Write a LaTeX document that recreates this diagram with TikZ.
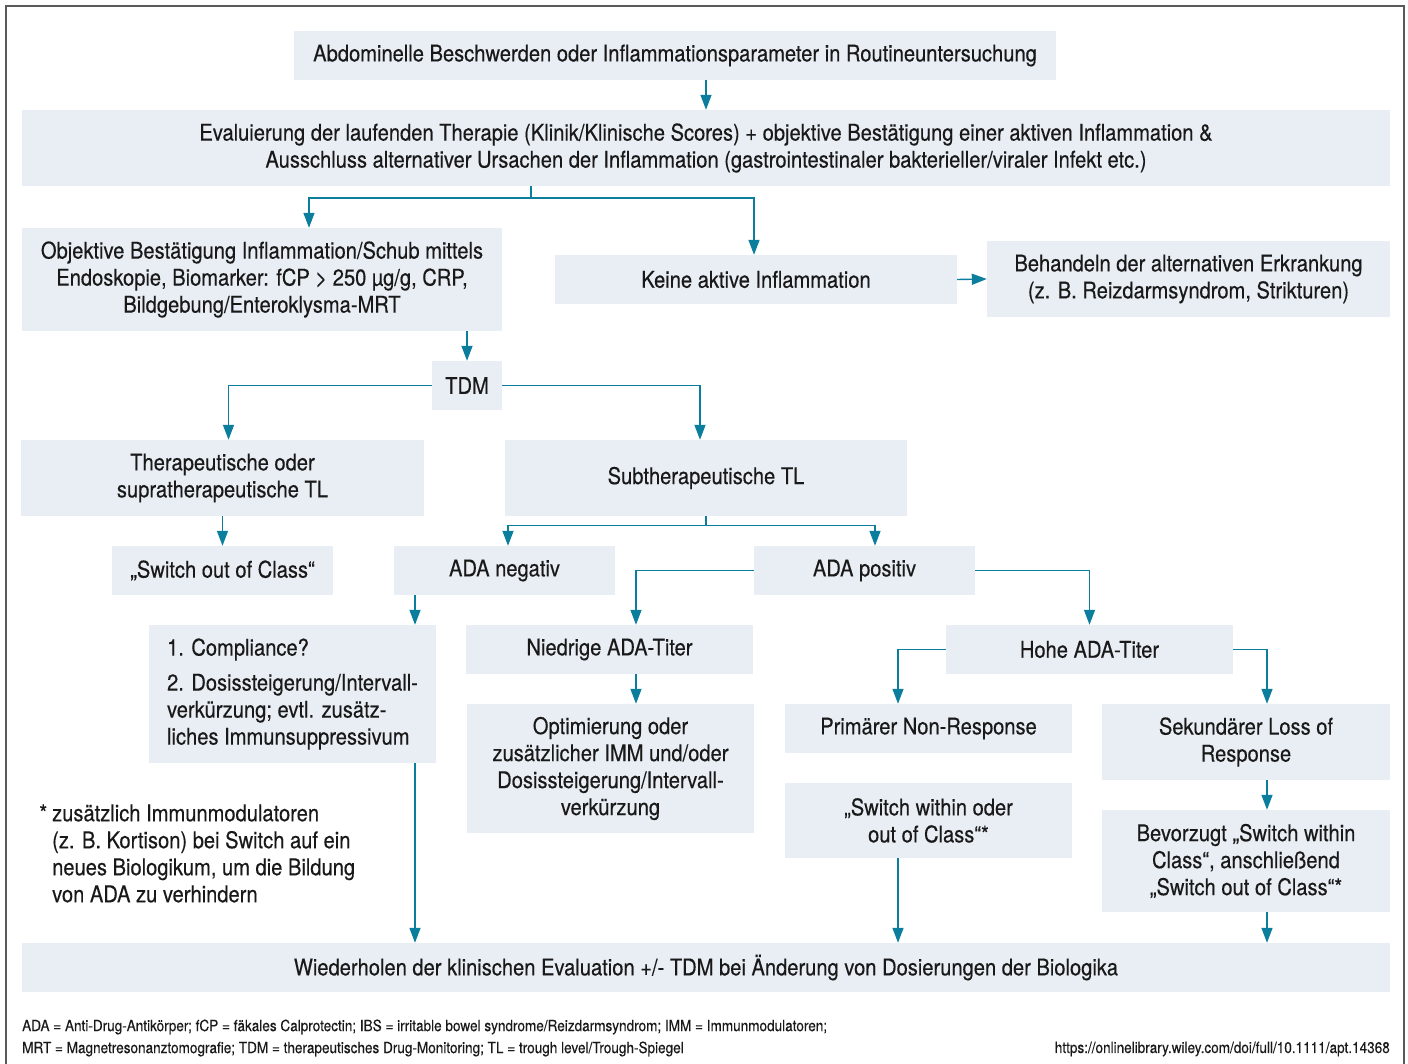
\documentclass[tikz,border=0pt]{standalone}
\usepackage{fontspec}
\setmainfont{TeX Gyre Heros}[FakeStretch=0.875,FakeBold=0.35]
\usetikzlibrary{arrows.meta,calc}
\definecolor{kasten}{HTML}{E8EEF4}
\definecolor{pfeil}{HTML}{0B7D9D}
\definecolor{rahmen}{HTML}{5A5A5A}

\begin{document}
\begin{tikzpicture}[x=1pt,y=-1pt,
  box/.style={rectangle, fill=kasten, inner sep=0pt, align=center,
    text=black!90, font=\fontsize{23}{27}\selectfont},
  arr/.style={draw=pfeil, line width=1.4pt, -{Triangle[width=11pt,length=15pt]}},
  note/.style={inner sep=0pt, align=left, text=black!90}]
  \useasboundingbox (0,0) rectangle (1408,1064);
  \draw[rahmen,line width=1.3pt] (6,1070) -- (6,6) -- (1404,6) -- (1404,1070);

  % Kaesten
  \node[box, minimum width=762pt, minimum height=49pt] at (675,55.5) (top)
    {Abdominelle Beschwerden oder Inflammationsparameter in Routineuntersuchung};
  \node[box, minimum width=1368pt, minimum height=76pt] at (706,148) (eval)
    {Evaluierung der laufenden Therapie (Klinik/Klinische Scores) + objektive Bestätigung einer aktiven Inflammation \&\\
     Ausschluss alternativer Ursachen der Inflammation (gastrointestinaler bakterieller/viraler Infekt etc.)};
  \node[box, minimum width=480pt, minimum height=103pt] at (262,279.5) (objektiv)
    {Objektive Bestätigung Inflammation/Schub mittels\\
     Endoskopie, Biomarker: fCP > 250 µg/g, CRP,\\
     Bildgebung/Enteroklysma-MRT};
  \node[box, minimum width=402pt, minimum height=49pt] at (756,279.5) (keine)
    {Keine aktive Inflammation};
  \node[box, minimum width=403pt, minimum height=76pt] at (1188.5,279) (behandeln)
    {Behandeln der alternativen Erkrankung\\(z. B. Reizdarmsyndrom, Strikturen)};
  \node[box, minimum width=70pt, minimum height=49pt] at (467,385.5) (tdm) {TDM};
  \node[box, minimum width=403pt, minimum height=76pt] at (222.5,478) (therap)
    {Therapeutische oder\\supratherapeutische TL};
  \node[box, minimum width=402pt, minimum height=76pt] at (706,478) (subther)
    {Subtherapeutische TL};
  \node[box, minimum width=221pt, minimum height=49pt] at (222.5,570.5) (switchout)
    {„Switch out of Class“};
  \node[box, minimum width=221pt, minimum height=49pt] at (504.5,570.5) (adaneg)
    {ADA negativ};
  \node[box, minimum width=221pt, minimum height=49pt] at (864.5,570.5) (adapos)
    {ADA positiv};
  \node[box, align=left, minimum width=287pt, minimum height=138pt] at (292.5,694) (compliance)
    {1. Compliance?\\[8pt]
     2. Dosissteigerung/Intervall-\\verkürzung; evtl. zusätz-\\liches Immunsuppressivum};
  \node[box, minimum width=287pt, minimum height=49pt] at (609.5,649.5) (niedrig)
    {Niedrige ADA-Titer};
  \node[box, minimum width=287pt, minimum height=49pt] at (1089.5,649.5) (hohe)
    {Hohe ADA-Titer};
  \node[box, minimum width=287pt, minimum height=129pt] at (610.5,768.5) (optim)
    {Optimierung oder\\zusätzlicher IMM und/oder\\Dosissteigerung/Intervall-\\verkürzung};
  \node[box, minimum width=287pt, minimum height=49pt] at (928.5,728.5) (primar)
    {Primärer Non-Response};
  \node[box, minimum width=288pt, minimum height=76pt] at (1246,742) (sekund)
    {Sekundärer Loss of\\Response};
  \node[box, minimum width=287pt, minimum height=75pt] at (928.5,820.5) (within)
    {„Switch within oder\\out of Class“*};
  \node[box, minimum width=288pt, minimum height=102pt] at (1246,861) (bevorzugt)
    {Bevorzugt „Switch within\\Class“, anschließend\\„Switch out of Class“*};
  \node[box, minimum width=1368pt, minimum height=49pt] at (706,967.5) (wiederholen)
    {Wiederholen der klinischen Evaluation +/- TDM bei Änderung von Dosierungen der Biologika};

  % Fussnote und Legende
  \node[note, anchor=west, font=\fontsize{23}{27}\selectfont] at (52,853.5) (fussnote)
    {\llap{*\hspace{5pt}}zusätzlich Immunmodulatoren\\
     (z. B. Kortison) bei Switch auf ein\\
     neues Biologikum, um die Bildung\\
     von ADA zu verhindern};
  \node[note, anchor=west, font=\fontsize{15.5}{22}\selectfont] at (22,1038) (legende)
    {ADA = Anti-Drug-Antikörper; fCP = fäkales Calprotectin; IBS = irritable bowel syndrome/Reizdarmsyndrom; IMM = Immunmodulatoren;\\
     MRT = Magnetresonanztomografie; TDM = therapeutisches Drug-Monitoring; TL = trough level/Trough-Spiegel};
  \node[note, anchor=east, font=\fontsize{15.5}{22}\selectfont] at (1390,1049) (quelle)
    {https://onlinelibrary.wiley.com/doi/full/10.1111/apt.14368};

  % Pfeile
  \draw[arr] (top.south -| eval.north) -- (eval.north);
  \draw[arr] ($(eval.south)+(-175,0)$) -- ++(0,12) -| ($(objektiv.north)+(47,0)$);
  \draw[arr] ($(eval.south)+(-175,12)$) -| ($(keine.north)+(-2,0)$);
  \draw[arr] (keine.east) -- (behandeln.west);
  \draw[arr] (objektiv.south -| tdm.north) -- (tdm.north);
  \draw[arr] (tdm.west) -| ($(therap.north)+(6,0)$);
  \draw[arr] (tdm.east) -| ($(subther.north)+(-6,0)$);
  \draw[arr] (therap.south) -- (switchout.north);
  \draw[arr] (subther.south) -- ++(0,9) -| ($(adaneg.north)+(3.5,0)$);
  \draw[arr] ($(subther.south)+(0,9)$) -| ($(adapos.north)+(10.5,0)$);
  \draw[arr] ($(adaneg.south)+(-89.5,0)$) -- ($(compliance.north)+(122.5,0)$);
  \draw[arr] (adapos.west) -| ($(niedrig.north)+(26.5,0)$);
  \draw[arr] (adapos.east) -| (hohe.north);
  \draw[arr] ($(niedrig.south)+(26.5,0)$) -- ($(optim.north)+(25.5,0)$);
  \draw[arr] (hohe.west) -| ($(primar.north)+(-30.5,0)$);
  \draw[arr] (hohe.east) -| ($(sekund.north)+(21,0)$);
  \draw[arr] ($(sekund.south)+(21,0)$) -- ($(bevorzugt.north)+(21,0)$);
  \draw[arr] ($(compliance.south)+(122.5,0)$) -- ($(wiederholen.north)+(-291,0)$);
  \draw[arr] ($(within.south)+(-30.5,0)$) -- ($(wiederholen.north)+(192,0)$);
  \draw[arr] ($(bevorzugt.south)+(21,0)$) -- ($(wiederholen.north)+(561,0)$);

\end{tikzpicture}
\end{document}
